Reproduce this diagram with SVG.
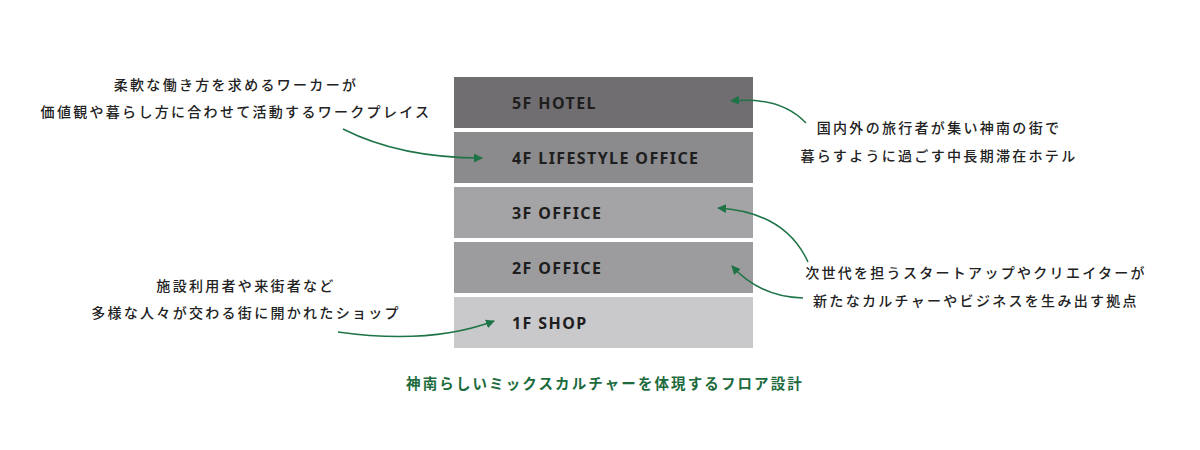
<svg xmlns="http://www.w3.org/2000/svg" width="1200" height="450" viewBox="0 0 1200 450">
<style>
.floor text{font-family:"Noto Sans","Liberation Sans",sans-serif;font-weight:bold;font-size:16px;fill:#1e1e1e;letter-spacing:1.4px}
.note{font-family:"Noto Sans CJK JP",sans-serif;font-size:14px;font-weight:500;fill:#222;letter-spacing:2.3px;text-anchor:middle}
.cap{font-family:"Noto Sans CJK JP",sans-serif;font-size:14.5px;font-weight:bold;fill:#1d6b3d;letter-spacing:2.1px;text-anchor:middle}
.arr{fill:none;stroke:#1e7447;stroke-width:1.5;marker-end:url(#ah)}
</style>
<defs>
<marker id="ah" viewBox="0 0 10 10" refX="9" refY="5" markerWidth="9" markerHeight="9" markerUnits="userSpaceOnUse" orient="auto">
<path d="M0,0 L10,5 L0,10 z" fill="#1e7447"/>
</marker>
</defs>
<rect width="1200" height="450" fill="#fff"/>
<g id="floor5" class="floor"><rect x="454" y="77" width="299" height="51" fill="#706e70"/><text x="512" y="109">5F HOTEL</text></g>
<g id="floor4" class="floor"><rect x="454" y="132" width="299" height="51" fill="#8b8a8c"/><text x="512" y="164">4F LIFESTYLE OFFICE</text></g>
<g id="floor3" class="floor"><rect x="454" y="187" width="299" height="51" fill="#a4a3a5"/><text x="512" y="219">3F OFFICE</text></g>
<g id="floor2" class="floor"><rect x="454" y="242" width="299" height="51" fill="#9c9b9d"/><text x="512" y="274">2F OFFICE</text></g>
<g id="floor1" class="floor"><rect x="454" y="297" width="299" height="51" fill="#c9c8ca"/><text x="512" y="329">1F SHOP</text></g>
<g id="note4"><text class="note" x="236" y="90">柔軟な働き方を求めるワーカーが</text><text class="note" x="236" y="117">価値観や暮らし方に合わせて活動するワークプレイス</text></g>
<g id="note5"><text class="note" x="939" y="133">国内外の旅行者が集い神南の街で</text><text class="note" x="939" y="161">暮らすように過ごす中長期滞在ホテル</text></g>
<g id="note23"><text class="note" x="976" y="278">次世代を担うスタートアップやクリエイターが</text><text class="note" x="976" y="306">新たなカルチャーやビジネスを生み出す拠点</text></g>
<g id="note1"><text class="note" x="246" y="291">施設利用者や来街者など</text><text class="note" x="246" y="318">多様な人々が交わる街に開かれたショップ</text></g>
<g id="caption"><text class="cap" x="605" y="389">神南らしいミックスカルチャーを体現するフロア設計</text></g>
<g id="connectors">
<path class="arr" d="M343,129 Q400,158 482,158"/>
<path class="arr" d="M806,123 Q780,96 731,101"/>
<path class="arr" d="M808,262 Q785,212 718,208"/>
<path class="arr" d="M803,298 Q760,297 732,266"/>
<path class="arr" d="M338,332 Q430,345 494,321"/>
</g>
</svg>
